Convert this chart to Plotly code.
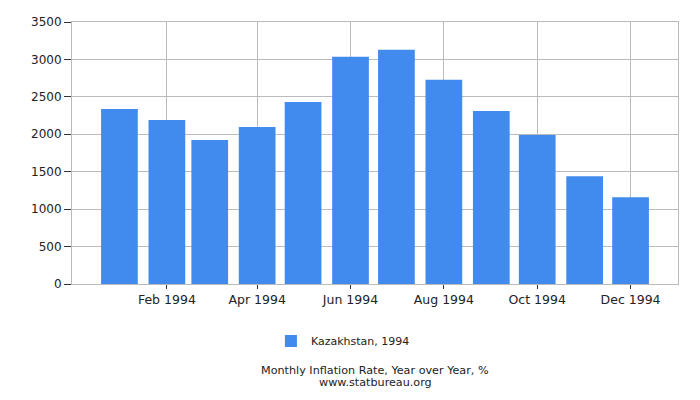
import plotly.graph_objects as go

months = ["1994-01-01", "1994-02-01", "1994-03-01", "1994-04-01", "1994-05-01", "1994-06-01",
          "1994-07-01", "1994-08-01", "1994-09-01", "1994-10-01", "1994-11-01", "1994-12-01"]
inflation = [2338, 2190, 1922, 2097, 2432, 3035, 3129, 2727, 2311, 1989, 1439, 1158]
series_name = "Kazakhstan, 1994"
y_ticks = [0, 500, 1000, 1500, 2000, 2500, 3000, 3500]
x_ticks = ["1994-02-01", "1994-04-01", "1994-06-01", "1994-08-01", "1994-10-01", "1994-12-01"]
x_labels = ["Feb 1994", "Apr 1994", "Jun 1994", "Aug 1994", "Oct 1994", "Dec 1994"]

DAY = 86400000

bars = go.Bar(
    x=months,
    y=inflation,
    name=series_name,
    width=[24 * DAY] * len(months),
    marker=dict(color="#418bef", line=dict(width=0)),
    showlegend=True,
)

fig = go.Figure(data=[bars])

# the page body keeps its default 8px margin, so the figure is 8px smaller
fig.update_layout(
    width=692,
    height=392,
    margin=dict(l=64, r=22, t=14, b=116, autoexpand=False),
    paper_bgcolor="white",
    plot_bgcolor="white",
    font=dict(family="DejaVu Sans", size=12, color="#222"),
    showlegend=True,
    legend=dict(
        orientation="h",
        xref="container", yref="container",
        x=0.484, xanchor="center",
        y=1 - 333 / 392, yanchor="middle",
        font=dict(size=11),
    ),
    annotations=[
        dict(text="Monthly Inflation Rate, Year over Year, %",
             xref="paper", yref="paper", x=0.5, y=-0.331, yanchor="middle",
             showarrow=False, font=dict(size=11.2, color="#222")),
        dict(text="www.statbureau.org",
             xref="paper", yref="paper", x=0.5, y=-0.377, yanchor="middle",
             showarrow=False, font=dict(size=11.2, color="#222")),
    ],
)

fig.update_xaxes(
    type="date",
    range=["1993-12-01", "1995-01-01"],
    tickvals=x_ticks,
    ticktext=x_labels,
    ticks="outside",
    ticklen=4,
    tickcolor="#333",
    showgrid=True,
    gridcolor="#bbbbbb",
    showline=True,
    linecolor="#bbbbbb",
    mirror=True,
    tickfont=dict(size=12.5),
)

fig.update_yaxes(
    range=[0, 3500],
    tickvals=y_ticks,
    ticks="outside",
    ticklen=7,
    tickcolor="#333",
    showgrid=True,
    gridcolor="#bbbbbb",
    showline=True,
    linecolor="#bbbbbb",
    mirror=True,
    zeroline=False,
    tickfont=dict(size=12),
)

fig.write_html("out.html")
